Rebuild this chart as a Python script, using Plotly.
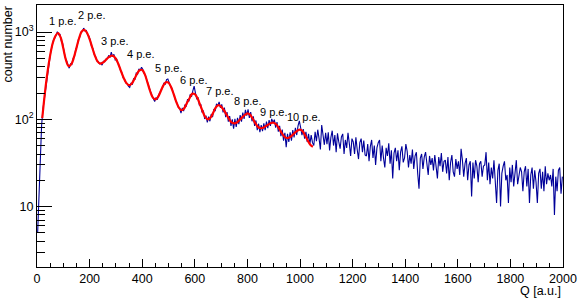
import numpy as np
import plotly.graph_objects as go

# ---------------- data ----------------
bin_width = 5  # Q units per histogram bin, bins start at Q = 0

counts_0_1000 = [
    5, 14, 42, 85, 130, 168, 240, 305, 405, 480, 600, 690, 810, 850, 960, 1010, 930, 940, 790, 740,
    610, 505, 470, 410, 385, 432, 425, 500, 525, 640, 680, 830, 870, 1000, 1020, 1110, 1030, 1045, 920, 900,
    810, 680, 650, 555, 525, 468, 460, 432, 440, 418, 462, 455, 490, 495, 540, 510, 590, 520, 555, 480,
    495, 435, 410, 362, 342, 300, 290, 262, 258, 240, 232, 262, 250, 295, 285, 338, 328, 378, 365, 395,
    372, 335, 318, 280, 256, 224, 205, 185, 174, 160, 178, 168, 190, 200, 218, 230, 262, 250, 285, 290,
    262, 240, 228, 200, 186, 163, 153, 137, 134, 118, 135, 124, 147, 140, 170, 160, 193, 181, 212, 240,
    200, 172, 176, 144, 149, 120, 126, 101, 110, 92, 107, 95, 115, 106, 131, 124, 150, 143, 158, 135,
    148, 120, 136, 106, 121, 94, 109, 84, 100, 78, 101, 82, 104, 88, 112, 94, 119, 101, 128, 110,
    130, 104, 121, 95, 108, 84, 97, 75, 89, 71, 86, 73, 90, 75, 94, 79, 98, 84, 101, 92,
    99, 80, 93, 72, 84, 64, 76, 57, 70, 48, 68, 55, 71, 57, 75, 62, 80, 66, 84, 96,
]
counts_1000_2000 = [
    80, 66, 77, 60, 72, 55, 68, 52, 66, 54,
    50, 72, 56, 76, 60, 45, 86, 64, 51, 70,
    52, 71, 44, 62, 74, 50, 66, 42, 69, 55,
    46, 63, 68, 40, 58, 47, 70, 53, 38, 60,
    55, 40, 62, 45, 35, 54, 60, 42, 57, 39,
    38, 52, 33, 49, 58, 36, 50, 30, 47, 54,
    58, 33, 50, 36, 28, 47, 38, 53, 31, 44,
    21, 41, 47, 33, 44, 26, 42, 49, 32, 36,
    52, 43, 28, 39, 31, 45, 27, 38, 42, 24,
    16, 36, 40, 27, 37, 42, 28, 23, 38, 30,
    36, 26, 39, 28, 21, 37, 29, 41, 25, 33,
    34, 24, 37, 20, 32, 39, 25, 22, 35, 27,
    33, 23, 46, 34, 22, 31, 36, 20, 30, 33,
    13, 32, 21, 34, 29, 19, 31, 33, 22, 29,
    30, 42, 20, 32, 18, 28, 21, 34, 19, 11,
    26, 31, 10, 24, 29, 33, 20, 23, 11, 28,
    19, 30, 17, 27, 34, 18, 22, 28, 25, 15,
    25, 29, 17, 27, 11, 23, 28, 16, 26, 19,
    11, 24, 27, 16, 25, 15, 29, 18, 24, 20,
    23, 17, 27, 8, 22, 15, 26, 28, 14, 22,
]
counts = counts_0_1000 + counts_1000_2000

fit_q = [20, 30, 40, 50, 60, 70, 80, 90, 100, 110, 120, 130, 140, 150, 160, 170, 180, 190, 200,
         210, 220, 230, 240, 250, 260, 270, 280, 290, 300, 310, 320, 330, 340, 350, 360, 370, 380,
         390, 400, 410, 420, 430, 440, 450, 460, 470, 480, 490, 500, 510, 520, 530, 540, 550, 560,
         570, 580, 590, 600, 610, 620, 630, 640, 650, 660, 670, 680, 690, 700, 710, 720, 730, 740,
         750, 760, 770, 780, 790, 800, 810, 820, 830, 840, 850, 860, 870, 880, 890, 900, 910, 920,
         930, 940, 950, 960, 970, 980, 990, 1000, 1010, 1020, 1030, 1040, 1049]
fit_y = [103, 200, 350, 540, 750, 900, 975, 867, 650, 479, 407, 426, 508, 657, 849, 1014, 1061, 982, 828,
         665, 538, 461, 435, 446, 473, 507, 532, 533, 493, 425, 353, 296, 260, 246, 256, 288, 331,
         365, 367, 327, 265, 211, 178, 169, 180, 208, 243, 266, 263, 233, 193, 157, 135, 127, 134,
         154, 174, 196, 194, 175, 147, 123, 106, 100, 105, 119, 137, 145, 140, 128, 114, 101, 92,
         90, 92, 98, 105, 112, 117, 113, 102, 90.5, 82, 79, 80, 83.4, 87.3, 90.6, 91.2, 87, 78.7,
         70, 63.5, 61, 62, 65.3, 70, 74, 76, 73, 65, 56.6, 50.6, 48.5]

peak_labels = ["1 p.e.", "2 p.e.", "3 p.e.", "4 p.e.", "5 p.e.", "6 p.e.", "7 p.e.", "8 p.e.", "9 p.e.", "10 p.e."]
label_q = [100, 211, 297, 395, 501, 596, 695, 801, 903, 1015]
label_count = [1325, 1550, 790, 556, 385, 281, 212, 161, 122, 107]

x_tick_vals = [0, 200, 400, 600, 800, 1000, 1200, 1400, 1600, 1800, 2000]
y_tick_vals = [10, 100, 1000]
y_tick_text = ["10", "10<sup>2</sup>", "10<sup>3</sup>"]

# ---------------- figure ----------------
FONT = "Liberation Sans, Arial, Helvetica, sans-serif"

centers = (np.arange(len(counts)) + 0.5) * bin_width

fig = go.Figure()
fig.add_trace(go.Scatter(
    x=centers, y=counts, mode="lines", line=dict(color="#000099", width=1.1),
    hoverinfo="skip", showlegend=False,
))
fig.add_trace(go.Scatter(
    x=fit_q, y=fit_y, mode="lines", line=dict(color="#ff0000", width=2.2, shape="spline", smoothing=1.0),
    hoverinfo="skip", showlegend=False,
))

for txt, q, c in zip(peak_labels, label_q, label_count):
    fig.add_annotation(x=q, y=np.log10(c), xref="x", yref="y", text=txt, showarrow=False,
                       font=dict(family=FONT, size=11, color="black"), xanchor="center", yanchor="middle")

minor_y = [v * d for d in (1, 10, 100, 1000) for v in range(2, 10) if v * d < 2100]

fig.update_xaxes(
    range=[0, 2000], tickvals=x_tick_vals, ticks="inside", ticklen=8, tickcolor="black",
    showline=True, linecolor="black", linewidth=1, mirror=True, showgrid=False, zeroline=False,
    tickfont=dict(family=FONT, size=12.5, color="black"),
    minor=dict(dtick=50, tick0=0, ticks="inside", ticklen=4, tickcolor="black", showgrid=False),
)
fig.update_yaxes(
    type="log", range=[0.307, 3.31], tickvals=y_tick_vals, ticktext=y_tick_text,
    ticks="inside", ticklen=15, tickcolor="black",
    showline=True, linecolor="black", linewidth=1, mirror=True, showgrid=False, zeroline=False,
    tickfont=dict(family=FONT, size=12.5, color="black"),
    minor=dict(tickvals=minor_y, ticks="inside", ticklen=8, tickcolor="black", showgrid=False),
)

fig.add_annotation(text="Q [a.u.]", xref="paper", yref="paper", x=1.0, y=-0.093,
                   xanchor="right", yanchor="middle", showarrow=False,
                   font=dict(family=FONT, size=12.5, color="black"))
fig.add_annotation(text="count number", xref="paper", yref="paper", x=-0.056, y=1.0,
                   xanchor="center", yanchor="top", textangle=-90, showarrow=False,
                   font=dict(family=FONT, size=12.5, color="black"))

fig.update_layout(
    width=581, height=300, margin=dict(l=37, r=16, t=4, b=33),
    paper_bgcolor="white", plot_bgcolor="white", showlegend=False,
)

fig.write_html("out.html", config={"displayModeBar": False, "staticPlot": True},
               post_script="document.body.style.margin='0';document.body.style.overflow='hidden';")
